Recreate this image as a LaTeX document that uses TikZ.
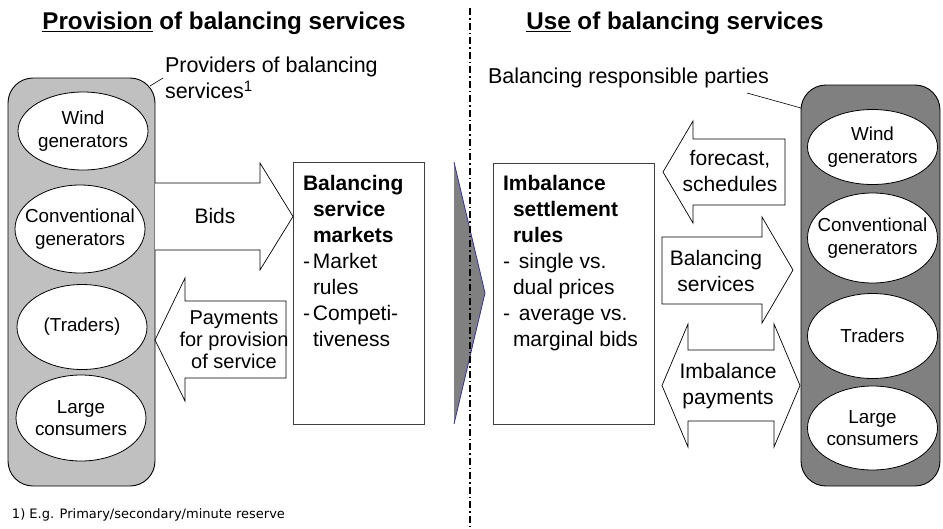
\documentclass[tikz,border=0pt]{standalone}
\usepackage{fontspec}
\setmainfont{Liberation Sans}
\newfontfamily\footfont{DejaVu Sans}
\usetikzlibrary{shapes.geometric}
\definecolor{lightgrp}{RGB}{192,192,192}
\definecolor{darkgrp}{RGB}{128,128,128}
\definecolor{boxedge}{RGB}{64,64,64}
\definecolor{triblue}{RGB}{51,51,153}
\begin{document}
\begin{tikzpicture}[x=1pt,y=-1pt,
  every node/.style={inner sep=0pt,outer sep=0pt},
  grp/.style={draw=black,line width=0.9pt,rounded corners=25pt},
  party/.style={ellipse,draw=black,fill=white,line width=0.8pt,minimum width=130pt},
  partytext/.style={align=center,font=\fontsize{18.8}{22.5}\selectfont},
  rulebox/.style={draw=boxedge,line width=1pt,fill=white},
  blockarrow/.style={draw=black,line width=0.7pt,fill=white,line join=miter},
  lbl/.style={align=center,font=\fontsize{21}{25.5}\selectfont},
  boxtext/.style={align=left,anchor=north west,font=\fontsize{21}{26}\selectfont},
  ttl/.style={font=\fontsize{24.2}{28}\selectfont\bfseries},
  note/.style={align=left,font=\fontsize{21.5}{26}\selectfont},
  leader/.style={draw=black,line width=0.6pt},
  divider/.style={draw=black,line width=1.3pt,dash pattern=on 7pt off 3pt on 1.5pt off 3pt}
]
\useasboundingbox (0,0) rectangle (943,528);
\fill[white] (0,0) rectangle (943,528);

% titles
\node[ttl] (t1) at (224,23) {\underline{Provision} of balancing services};
\node[ttl] (t2) at (675,23) {\underline{Use} of balancing services};

% divider
\coordinate (dtop) at (470,8);
\coordinate (dbot) at (470,528);

% gray transition triangle
\fill[darkgrp] (454,162) -- (485,293) -- (454,424) -- cycle;
\draw[triblue,line width=0.8pt] (454,162) -- (485,293) -- (454,424);
\draw[divider] (dtop) -- (dbot);

% left group
\draw[grp,fill=lightgrp] (8,78) rectangle (155,486);
\node[party,minimum height=78pt] (lw) at (83,131) {};
\node[partytext] at (lw) {Wind\\generators};
\node[party,minimum height=88pt] (lc) at (80,229) {};
\node[partytext] at (lc) {Conventional\\generators};
\node[party,minimum height=85pt] (lt) at (82,327) {};
\node[partytext] at (lt) {(Traders)};
\node[party,minimum height=86pt] (ll) at (81,418) {};
\node[partytext] at (ll) {Large\\consumers};

% right group
\draw[grp,fill=darkgrp] (801,85) rectangle (940,486);
\node[party,minimum height=75pt] (rw) at (872.5,147) {};
\node[partytext] at (rw) {Wind\\generators};
\node[party,minimum height=90pt] (rc) at (872.5,238) {};
\node[partytext] at (rc) {Conventional\\generators};
\node[party,minimum height=85pt] (rt) at (872.5,336) {};
\node[partytext] at (rt) {Traders};
\node[party,minimum height=84pt] (rl) at (872.5,428) {};
\node[partytext] at (rl) {Large\\consumers};

% annotations
\node[note,anchor=north west] (prov) at (165,57) {Providers of balancing\\services\textsuperscript{1}};
\coordinate (provend) at (150,86);
\coordinate (provstart) at (163,78);
\draw[leader] (provstart) -- (provend);
\node[note,anchor=west] (brp) at (488,78) {Balancing responsible parties};
\coordinate (brpa) at (747,93);
\coordinate (brpb) at (801,108);
\draw[leader] (brpa) -- (brpb);

% boxes
\node[rulebox,minimum width=131pt,minimum height=262pt] (bsm) at (358.5,293) {};
\node[boxtext] (bsmtext) at (303,175) {\textbf{Balancing}\\
  \hspace*{10pt}\textbf{service}\\
  \hspace*{10pt}\textbf{markets}\\
  \makebox[10pt][l]{-}Market\\
  \hspace*{10pt}rules\\
  \makebox[10pt][l]{-}Competi-\\
  \hspace*{10pt}tiveness};
\node[rulebox,minimum width=161pt,minimum height=261pt] (isr) at (573.5,293.5) {};
\node[boxtext] (isrtext) at (503,175) {\textbf{Imbalance}\\
  \hspace*{10pt}\textbf{settlement}\\
  \hspace*{10pt}\textbf{rules}\\
  \makebox[16pt][l]{-}single vs.\\
  \hspace*{10pt}dual prices\\
  \makebox[16pt][l]{-}average vs.\\
  \hspace*{10pt}marginal bids};

% block arrows left
\draw[blockarrow] (155,183) -- (260,183) -- (260,163) -- (293,216.5) -- (260,270) -- (260,250) -- (155,250);
\node[lbl] (bids) at (215,216) {Bids};
\draw[blockarrow] (155,340) -- (185,278) -- (185,301) -- (286,301) -- (286,378) -- (185,378) -- (185,401) -- cycle;
\node[lbl,font=\fontsize{20}{22}\selectfont] (pay) at (234,340) {Payments\\for provision\\of service};

% block arrows right
\draw[blockarrow] (663,172) -- (693,121) -- (693,139) -- (785,139) -- (785,205) -- (693,205) -- (693,223) -- cycle;
\node[lbl] (fc) at (730,171) {forecast,\\schedules};
\draw[blockarrow] (662,237) -- (762,237) -- (762,217) -- (793,270) -- (762,323) -- (762,304) -- (662,304) -- cycle;
\node[lbl] (bs) at (716,271) {Balancing\\services};
\draw[blockarrow] (662,385.5) -- (688,324) -- (688,350) -- (774,350) -- (774,324) -- (800,385.5) -- (774,447) -- (774,421) -- (688,421) -- (688,447) -- cycle;
\node[lbl] (ip) at (728,386) {Imbalance\\payments};

% footnote
\node[anchor=west,font=\footfont\fontsize{13}{15}\selectfont] (fn) at (12,515) {1) E.g. Primary/secondary/minute reserve};
\end{tikzpicture}
\end{document}
